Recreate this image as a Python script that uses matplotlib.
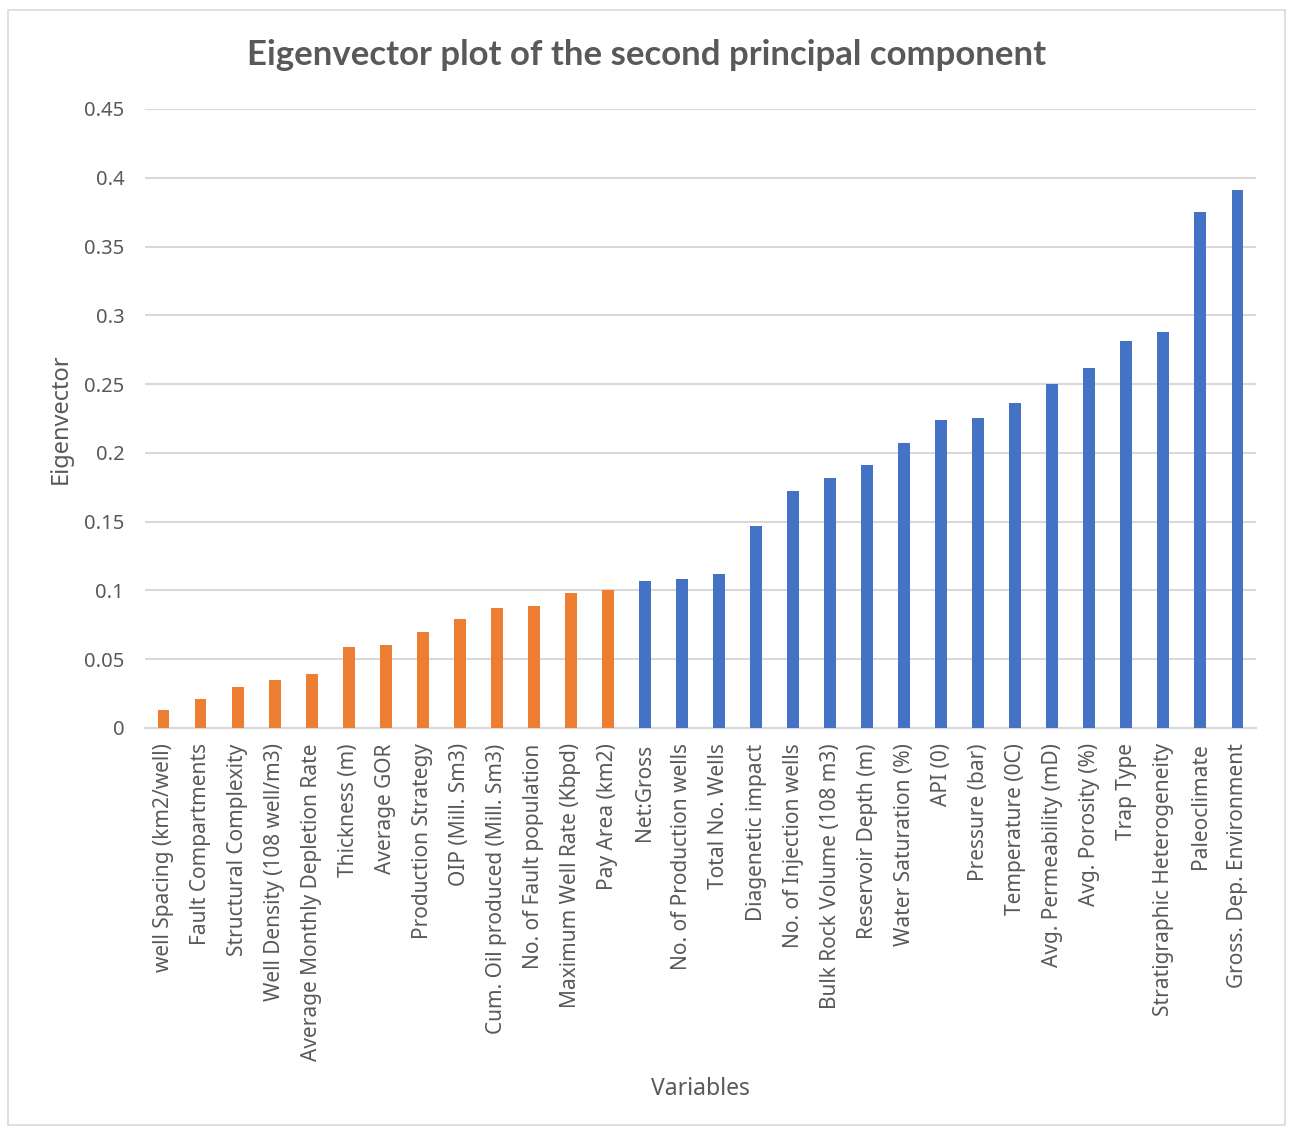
import numpy as np
import matplotlib.pyplot as plt
from matplotlib.patches import Rectangle

variables = [
    "well Spacing (km2/well)", "Fault Compartments", "Structural Complexity",
    "Well Density (108 well/m3)", "Average Monthly Depletion Rate", "Thickness (m)",
    "Average GOR", "Production Strategy", "OIP (Mill. Sm3)",
    "Cum. Oil produced (Mill. Sm3)", "No. of Fault population",
    "Maximum Well Rate (Kbpd)", "Pay Area (km2)", "Net:Gross",
    "No. of Production wells", "Total No. Wells", "Diagenetic impact",
    "No. of Injection wells", "Bulk Rock Volume (108 m3)", "Reservoir Depth (m)",
    "Water Saturation (%)", "API (0)", "Pressure (bar)", "Temperature (0C)",
    "Avg. Permeability (mD)", "Avg. Porosity (%)", "Trap Type",
    "Stratigraphic Heterogeneity", "Paleoclimate", "Gross. Dep. Environment",
]
eigenvector = [
    0.013, 0.021, 0.030, 0.035, 0.039, 0.059, 0.060, 0.070, 0.079, 0.087,
    0.089, 0.098, 0.100, 0.107, 0.108, 0.112, 0.147, 0.172, 0.182, 0.191,
    0.207, 0.224, 0.225, 0.236, 0.250, 0.262, 0.281, 0.288, 0.375, 0.391,
]
n_orange = 13  # first group drawn in orange

plt.rcParams['font.family'] = ['Noto Sans', 'DejaVu Sans']
txt = '#595959'

fig = plt.figure(figsize=(12.9, 11.29), dpi=100)
ax = fig.add_axes([0.1124, 0.3552, 0.8612, 0.5483])

# outer chart border
fig.patches.append(Rectangle((8 / 1290, 4 / 1129), 1277 / 1290, 1115 / 1129,
                             transform=fig.transFigure, fill=False,
                             edgecolor='#d9d9d9', linewidth=1.2))

x = np.arange(len(variables))
colors = ['#ED7D31'] * n_orange + ['#4472C4'] * (len(variables) - n_orange)
ax.bar(x, eigenvector, width=0.32, color=colors, zorder=3)

ax.set_xlim(-0.5, len(variables) - 0.5)
ax.set_ylim(0, 0.45)
ax.set_yticks(np.arange(0, 0.451, 0.05))
ax.set_yticklabels(['0', '0.05', '0.1', '0.15', '0.2', '0.25', '0.3', '0.35', '0.4', '0.45'])
ax.grid(axis='y', color='#d9d9d9', linewidth=1.5, zorder=0)
for s in ['top', 'right', 'left']:
    ax.spines[s].set_visible(False)
ax.spines['bottom'].set_color('#d9d9d9')
ax.spines['bottom'].set_linewidth(1.5)

ax.set_xticks(x)
ax.set_xticklabels(variables, rotation=90, color=txt)
ax.tick_params(axis='both', length=0, colors=txt)
ax.tick_params(axis='x', pad=11, labelsize=15)
ax.tick_params(axis='y', pad=15, labelsize=14.5)

ax.set_ylabel('Eigenvector', fontsize=17, color=txt, labelpad=8)
fig.text(0.543, 0.030, 'Variables', fontsize=16.5, color=txt, ha='center')
fig.text(0.501, 0.951, 'Eigenvector plot of the second principal component',
         fontsize=25, fontweight='bold', color=txt, ha='center', va='center',
         family=['Lato', 'DejaVu Sans'])

fig.savefig('out.png', dpi=100)
